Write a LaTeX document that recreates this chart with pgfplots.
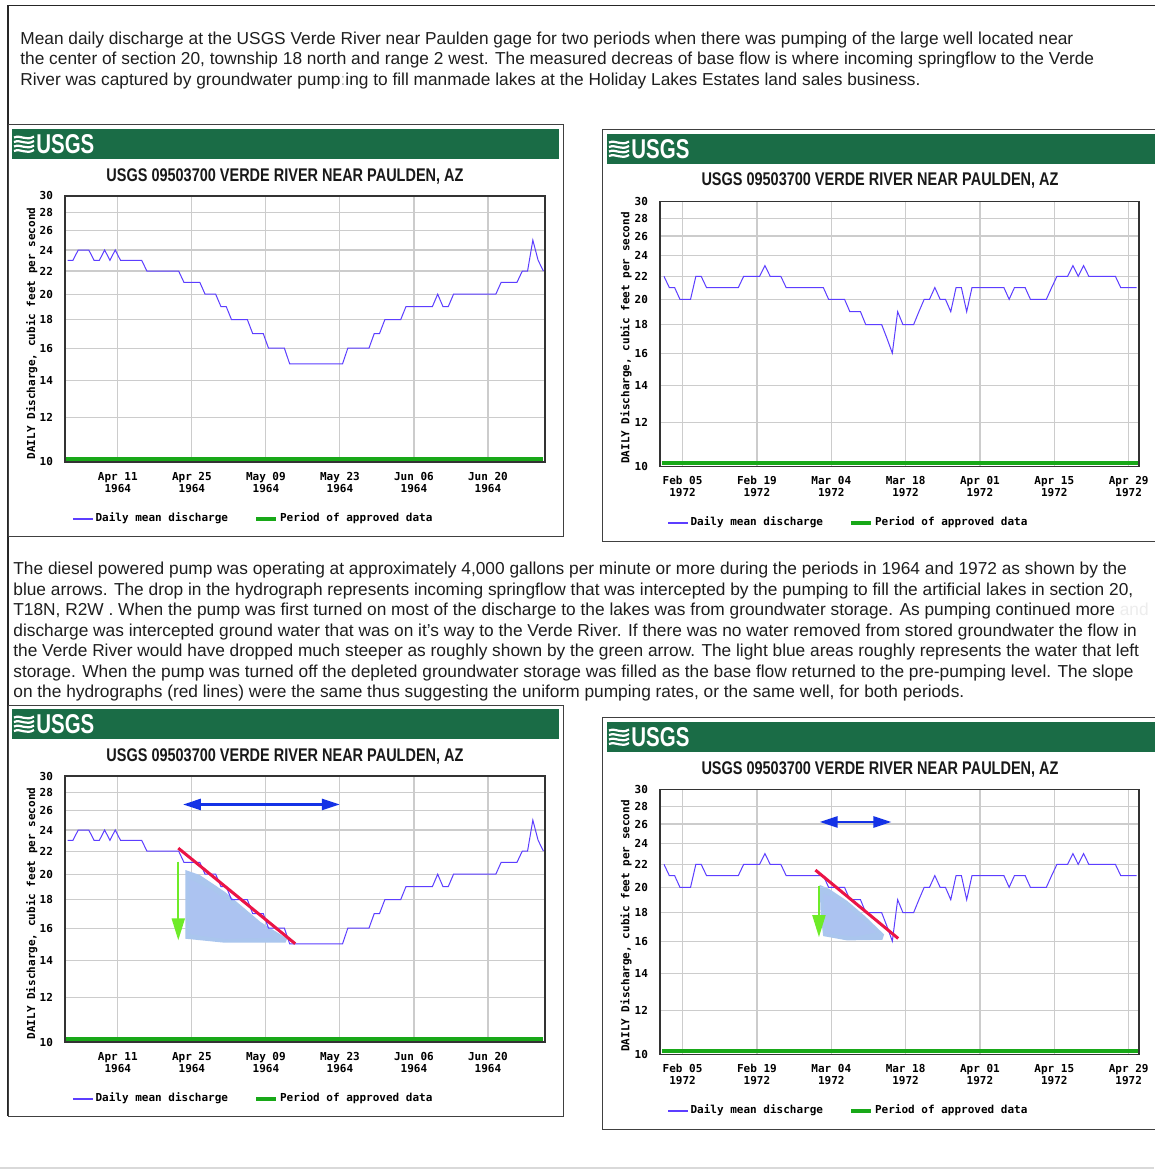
\documentclass[border=0pt]{standalone}
\usepackage{fontspec}
\setmainfont{Liberation Sans}
\newfontfamily\chartfont{DejaVu Sans Mono}
\usepackage{pgfplots}
\usepackage{pgfplotstable}
\pgfplotsset{compat=1.18}
\usetikzlibrary{arrows.meta}
\definecolor{usgsgreen}{RGB}{26,108,70}
\definecolor{dline}{RGB}{92,62,255}
\definecolor{apgreen}{RGB}{24,168,24}
\definecolor{txt}{RGB}{30,30,30}
\definecolor{arrowblue}{RGB}{20,50,230}
\definecolor{redline}{RGB}{235,20,70}
\definecolor{garrow}{RGB}{110,235,40}
\definecolor{lblue}{RGB}{170,198,238}
\newcommand{\cf}{\chartfont\bfseries\fontsize{5.5pt}{6pt}\selectfont}
\newcommand{\bodyf}{\fontsize{8.65pt}{10pt}\selectfont}

\pgfplotstableread{
d v
0 23
1 23
2 24
3 24
4 24
5 23
6 23
7 24
8 23
9 24
10 23
11 23
12 23
13 23
14 23
15 22
16 22
17 22
18 22
19 22
20 22
21 22
22 21
23 21
24 21
25 21
26 20
27 20
28 20
29 19
30 19
31 18
32 18
33 18
34 18
35 17
36 17
37 17
38 16
39 16
40 16
41 16
42 15
43 15
44 15
45 15
46 15
47 15
48 15
49 15
50 15
51 15
52 15
53 16
54 16
55 16
56 16
57 16
58 17
59 17
60 18
61 18
62 18
63 18
64 19
65 19
66 19
67 19
68 19
69 19
70 20
71 19
72 19
73 20
74 20
75 20
76 20
77 20
78 20
79 20
80 20
81 20
82 21
83 21
84 21
85 21
86 22
87 22
88 25
89 23
90 22
}\dataA

\pgfplotstableread{
d v
0 22
1 21
2 21
3 20
4 20
5 20
6 22
7 22
8 21
9 21
10 21
11 21
12 21
13 21
14 21
15 22
16 22
17 22
18 22
19 23
20 22
21 22
22 22
23 21
24 21
25 21
26 21
27 21
28 21
29 21
30 21
31 20
32 20
33 20
34 20
35 19
36 19
37 19
38 18
39 18
40 18
41 18
42 17
43 16
44 19
45 18
46 18
47 18
48 19
49 20
50 20
51 21
52 20
53 20
54 19
55 21
56 21
57 19
58 21
59 21
60 21
61 21
62 21
63 21
64 21
65 20
66 21
67 21
68 21
69 20
70 20
71 20
72 20
73 21
74 22
75 22
76 22
77 23
78 22
79 23
80 22
81 22
82 22
83 22
84 22
85 22
86 21
87 21
88 21
89 21
}\dataB

\newcommand{\usgsheader}[4]{%
  \fill[usgsgreen] (#1,#2) rectangle (#3,#4);
  \begin{scope}[shift={(#1+2,#2+6)}]
    \foreach \k in {0,1,2,3}{
      \draw[white, line width=1.1pt] (0,2.5+4.5*\k) .. controls (7,-0.5+4.5*\k) and (12,6.5+4.5*\k) .. (20,1.5+4.5*\k);
    }
    \node[anchor=west, inner sep=0, text=white] at (22,9.5) {\resizebox{29pt}{9.5pt}{\bfseries USGS}};
  \end{scope}
}
\newcommand{\usgstitle}[2]{%
  \node[anchor=base, inner sep=0, text=black!90] at (#1,#2) {\resizebox{178.5pt}{6.4pt}{\bfseries USGS 09503700 VERDE RIVER NEAR PAULDEN, AZ}};
}

\begin{document}
\begin{tikzpicture}
\useasboundingbox (0,0) rectangle (577pt,-585pt);
\fill[white] (0,0) rectangle (577pt,-585pt);

\begin{scope}[x=0.5pt,y=-0.5pt]
  \draw[black!85, line width=0.6pt] (8,5.5) -- (1160,5.5);
  \draw[black!85, line width=0.6pt] (8,5.5) -- (8,1116);
  \draw[black!75, line width=0.5pt] (8,125) rectangle (563,536);
  \draw[black!75, line width=0.5pt] (602.5,129.5) rectangle (1170,541);
  \draw[black!75, line width=0.5pt] (8,705) rectangle (563,1116);
  \draw[black!75, line width=0.5pt] (602.5,717.5) rectangle (1170,1129);
  \draw[black!15, line width=0.6pt] (0,1168) -- (1154,1168);
  \usgsheader{12}{129}{559}{159}
  \usgsheader{607}{134}{1170}{164}
  \usgsheader{12}{709}{559}{739}
  \usgsheader{607}{722}{1170}{752}
  \usgstitle{285}{181.5}
  \usgstitle{880}{186}
  \usgstitle{285}{761.5}
  \usgstitle{880}{774}
  \begin{scope}[every node/.style={anchor=base west, inner sep=0, font=\bodyf, text=txt}]
  \node at (20,44.5) {Mean daily discharge at the USGS Verde River near Paulden gage for two periods when there was pumping of the large well located near};
  \node at (20,65) {the center of section 20, township 18 north and range 2 west. The measured decreas of base flow is where incoming springflow to the Verde};
  \node at (20,85.5) {River was captured by groundwater pump\textcolor{black!30}{:}ing to fill manmade lakes at the Holiday Lakes Estates land sales business.};
  \node at (13,574.5) {The diesel powered pump was operating at approximately 4,000 gallons per minute or more during the periods in 1964 and 1972 as shown by the};
  \node at (13,595) {blue arrows. The drop in the hydrograph represents incoming springflow that was intercepted by the pumping to fill the artificial lakes in section 20,};
  \node at (13,615.5) {T18N, R2W . When the pump was first turned on most of the discharge to the lakes was from groundwater storage. As pumping continued more \textcolor{black!7}{and}};
  \node at (13,636) {discharge was intercepted ground water that was on it's way to the Verde River. If there was no water removed from stored groundwater the flow in};
  \node at (13,656.5) {the Verde River would have dropped much steeper as roughly shown by the green arrow. The light blue areas roughly represents the water that left};
  \node at (13,677) {storage. When the pump was turned off the depleted groundwater storage was filled as the base flow returned to the pre-pumping level. The slope};
  \node at (13,697.5) {on the hydrographs (red lines) were the same thus suggesting the uniform pumping rates, or the same well, for both periods.};
  \end{scope}
\end{scope}

% Panel 1
\begin{axis}[
  scale only axis, width=240pt, height=133pt,
  at={(32.5pt,-231pt)}, anchor=south west,
  ymode=log, ymin=10, ymax=30,
  ytick={10,12,14,16,18,20,22,24,26,28,30},
  yticklabels={10,12,14,16,18,20,22,24,26,28,30},
  xmin=-0.5, xmax=90.3,
  xtick={9.5,23.5,37.5,51.5,65.5,79.5},
  xticklabels={{Apr 11\\1964},{Apr 25\\1964},{May 09\\1964},{May 23\\1964},{Jun 06\\1964},{Jun 20\\1964}},
  grid=major, major grid style={draw=black!20, line width=0.6pt},
  axis line style={draw=black!80, line width=0.75pt},
  major tick length=0pt,
  tick label style={font=\cf, text=black},
  xticklabel style={align=center, yshift=-1.5pt},
  yticklabel style={xshift=-2.5pt},
  ylabel={DAILY Discharge, cubic feet per second},
  ylabel style={at={(axis description cs:-0.069,0.483)}, anchor=center, font=\cf},
  legend columns=2, legend cell align=left,
  legend style={at={(axis description cs:0.0146,-0.2143)}, anchor=west, draw=none, fill=none, inner sep=0pt, font=\cf, nodes={inner sep=1pt}, /tikz/every even column/.append style={column sep=12pt}},
  legend image code/.code={\draw[#1] (0pt,0pt) -- (10pt,0pt);},
]
\addlegendimage{draw=dline, line width=0.6pt}
\addlegendentry{Daily mean discharge}
\addlegendimage{draw=apgreen, line width=2pt}
\addlegendentry{Period of approved data}
\addplot[dline, line width=0.5pt, forget plot] table[x=d,y=v] {\dataA};
\addplot[apgreen, line width=2pt, forget plot] coordinates {(-0.3,10.14) (90,10.14)};
\end{axis}

% Panel 2
\begin{axis}[
  scale only axis, width=239.5pt, height=132.5pt,
  at={(330pt,-233.25pt)}, anchor=south west,
  ymode=log, ymin=10, ymax=30,
  ytick={10,12,14,16,18,20,22,24,26,28,30},
  yticklabels={10,12,14,16,18,20,22,24,26,28,30},
  xmin=-0.75, xmax=89.45,
  xtick={3.5,17.5,31.5,45.5,59.5,73.5,87.5},
  xticklabels={{Feb 05\\1972},{Feb 19\\1972},{Mar 04\\1972},{Mar 18\\1972},{Apr 01\\1972},{Apr 15\\1972},{Apr 29\\1972}},
  grid=major, major grid style={draw=black!20, line width=0.6pt},
  axis line style={draw=black!80, line width=0.75pt},
  major tick length=0pt,
  tick label style={font=\cf, text=black},
  xticklabel style={align=center, yshift=-1.5pt},
  yticklabel style={xshift=-2.5pt},
  ylabel={DAILY Discharge, cubic feet per second},
  ylabel style={at={(axis description cs:-0.071,0.485)}, anchor=center, font=\cf},
  legend columns=2, legend cell align=left,
  legend style={at={(axis description cs:0.0146,-0.2132)}, anchor=west, draw=none, fill=none, inner sep=0pt, font=\cf, nodes={inner sep=1pt}, /tikz/every even column/.append style={column sep=12pt}},
  legend image code/.code={\draw[#1] (0pt,0pt) -- (10pt,0pt);},
]
\addlegendimage{draw=dline, line width=0.6pt}
\addlegendentry{Daily mean discharge}
\addlegendimage{draw=apgreen, line width=2pt}
\addlegendentry{Period of approved data}
\addplot[dline, line width=0.5pt, forget plot] table[x=d,y=v] {\dataB};
\addplot[apgreen, line width=2pt, forget plot] coordinates {(-0.4,10.14) (89.25,10.14)};
\end{axis}

% Panel 3
\begin{axis}[
  scale only axis, width=240pt, height=133pt,
  at={(32.5pt,-521pt)}, anchor=south west,
  ymode=log, ymin=10, ymax=30,
  ytick={10,12,14,16,18,20,22,24,26,28,30},
  yticklabels={10,12,14,16,18,20,22,24,26,28,30},
  xmin=-0.5, xmax=90.3,
  xtick={9.5,23.5,37.5,51.5,65.5,79.5},
  xticklabels={{Apr 11\\1964},{Apr 25\\1964},{May 09\\1964},{May 23\\1964},{Jun 06\\1964},{Jun 20\\1964}},
  grid=major, major grid style={draw=black!20, line width=0.6pt},
  axis line style={draw=black!80, line width=0.75pt},
  major tick length=0pt,
  tick label style={font=\cf, text=black},
  xticklabel style={align=center, yshift=-1.5pt},
  yticklabel style={xshift=-2.5pt},
  ylabel={DAILY Discharge, cubic feet per second},
  ylabel style={at={(axis description cs:-0.069,0.483)}, anchor=center, font=\cf},
  legend columns=2, legend cell align=left,
  legend style={at={(axis description cs:0.0146,-0.2143)}, anchor=west, draw=none, fill=none, inner sep=0pt, font=\cf, nodes={inner sep=1pt}, /tikz/every even column/.append style={column sep=12pt}},
  legend image code/.code={\draw[#1] (0pt,0pt) -- (10pt,0pt);},
]
\addlegendimage{draw=dline, line width=0.6pt}
\addlegendentry{Daily mean discharge}
\addlegendimage{draw=apgreen, line width=2pt}
\addlegendentry{Period of approved data}
\addplot[draw=none, fill=lblue, forget plot] coordinates {(22.28,20.35) (24.99,19.93) (29.72,18.6) (36.48,16.42) (41.55,15.32) (41.21,15.07) (29.72,15.07) (22.28,15.32)} -- cycle;
\addplot[draw=none, fill=lblue!75!blue!60!white, fill opacity=0.35, forget plot] coordinates {(23,19.6) (27,18.8) (33,17.2) (38,15.9) (39,15.4) (30,15.3) (23.2,15.6)} -- cycle;
\addplot[dline, line width=0.5pt, forget plot] table[x=d,y=v] {\dataA};
\addplot[apgreen, line width=2pt, forget plot] coordinates {(-0.3,10.14) (90,10.14)};
\addplot[redline, line width=1.5pt, forget plot] coordinates {(20.93,22.27) (43.04,15.01)};
\addplot[garrow, line width=1pt, -{Triangle[length=11pt,width=6.5pt]}, forget plot] coordinates {(20.93,21.07) (20.93,15.22)};
\addplot[arrowblue, line width=1.3pt, {Triangle[length=9pt,width=5.5pt]}-{Triangle[length=9pt,width=5.5pt]}, forget plot] coordinates {(21.81,26.67) (51.49,26.67)};
\end{axis}

% Panel 4
\begin{axis}[
  scale only axis, width=239.5pt, height=132.5pt,
  at={(330pt,-527.25pt)}, anchor=south west,
  ymode=log, ymin=10, ymax=30,
  ytick={10,12,14,16,18,20,22,24,26,28,30},
  yticklabels={10,12,14,16,18,20,22,24,26,28,30},
  xmin=-0.75, xmax=89.45,
  xtick={3.5,17.5,31.5,45.5,59.5,73.5,87.5},
  xticklabels={{Feb 05\\1972},{Feb 19\\1972},{Mar 04\\1972},{Mar 18\\1972},{Apr 01\\1972},{Apr 15\\1972},{Apr 29\\1972}},
  grid=major, major grid style={draw=black!20, line width=0.6pt},
  axis line style={draw=black!80, line width=0.75pt},
  major tick length=0pt,
  tick label style={font=\cf, text=black},
  xticklabel style={align=center, yshift=-1.5pt},
  yticklabel style={xshift=-2.5pt},
  ylabel={DAILY Discharge, cubic feet per second},
  ylabel style={at={(axis description cs:-0.071,0.485)}, anchor=center, font=\cf},
  legend columns=2, legend cell align=left,
  legend style={at={(axis description cs:0.0146,-0.2132)}, anchor=west, draw=none, fill=none, inner sep=0pt, font=\cf, nodes={inner sep=1pt}, /tikz/every even column/.append style={column sep=12pt}},
  legend image code/.code={\draw[#1] (0pt,0pt) -- (10pt,0pt);},
]
\addlegendimage{draw=dline, line width=0.6pt}
\addlegendentry{Daily mean discharge}
\addlegendimage{draw=apgreen, line width=2pt}
\addlegendentry{Period of approved data}
\addplot[draw=none, fill=lblue, forget plot] coordinates {(29.31,20.21) (31.17,19.85) (34.48,18.91) (37.8,17.77) (41.45,16.45) (41.12,16.09) (34.48,16.05) (29.97,16.34) (29.5,17.88)} -- cycle;
\addplot[draw=none, fill=lblue!75!blue!60!white, fill opacity=0.35, forget plot] coordinates {(30,19.5) (33,18.9) (37,17.6) (40,16.6) (36,16.3) (30.5,16.5)} -- cycle;
\addplot[dline, line width=0.5pt, forget plot] table[x=d,y=v] {\dataB};
\addplot[apgreen, line width=2pt, forget plot] coordinates {(-0.4,10.14) (89.25,10.14)};
\addplot[redline, line width=1.5pt, forget plot] coordinates {(28.52,21.48) (44.1,16.18)};
\addplot[garrow, line width=1pt, -{Triangle[length=11pt,width=6.5pt]}, forget plot] coordinates {(29.18,20.13) (29.18,16.27)};
\addplot[arrowblue, line width=1.3pt, {Triangle[length=9pt,width=5.5pt]}-{Triangle[length=9pt,width=5.5pt]}, forget plot] coordinates {(29.31,26.22) (42.84,26.22)};
\end{axis}
\end{tikzpicture}
\end{document}
